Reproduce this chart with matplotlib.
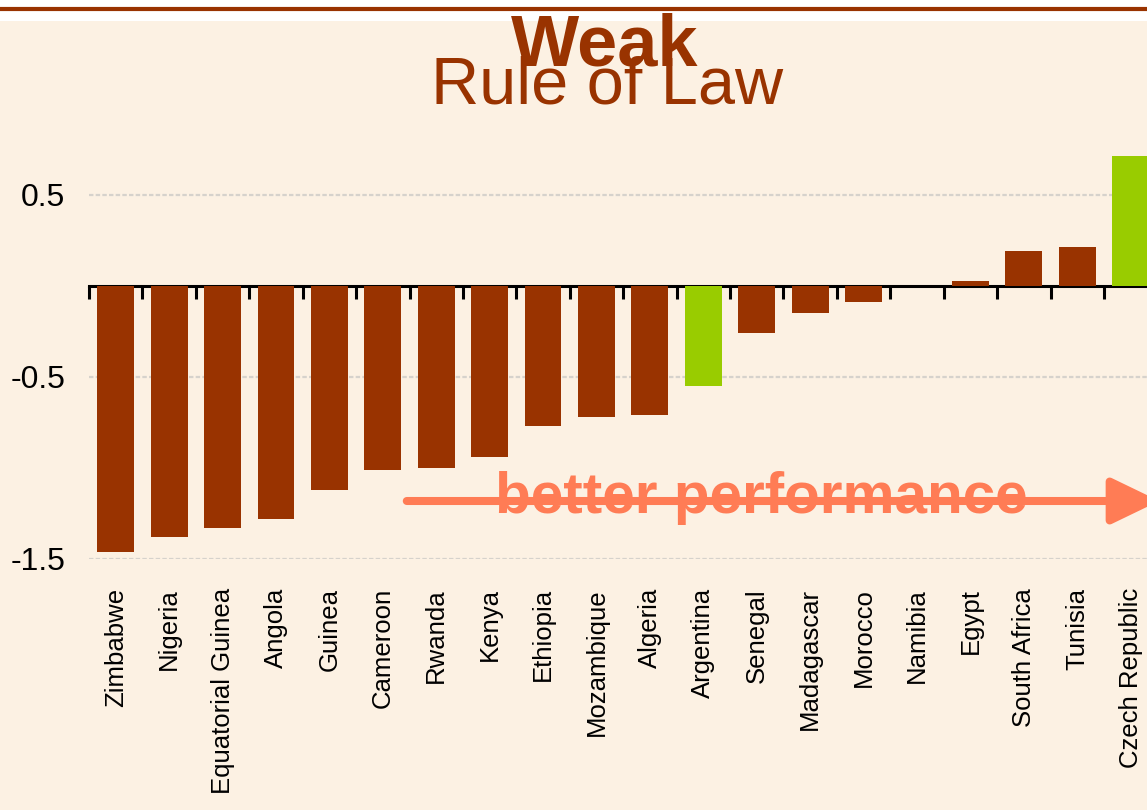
import matplotlib
matplotlib.use("Agg")
import matplotlib.pyplot as plt
from matplotlib import font_manager
from matplotlib.patches import Rectangle, FancyArrowPatch
from matplotlib.lines import Line2D

countries = ["Zimbabwe", "Nigeria", "Equatorial Guinea", "Angola", "Guinea",
             "Cameroon", "Rwanda", "Kenya", "Ethiopia", "Mozambique", "Algeria",
             "Argentina", "Senegal", "Madagascar", "Morocco", "Namibia", "Egypt",
             "South Africa", "Tunisia", "Czech Republic"]
values = [-1.46, -1.38, -1.33, -1.28, -1.12, -1.01, -1.00, -0.94, -0.77, -0.72,
          -0.71, -0.55, -0.26, -0.15, -0.09, 0.0, 0.025, 0.19, 0.21, 0.71]
highlight = ["Argentina", "Czech Republic"]
ytick_vals = [0.5, -0.5, -1.5]
ytick_labels = ["0.5", "-0.5", "-1.5"]

BROWN = "#993300"
GREEN = "#99CC00"
CREAM = "#FCF1E3"
CORAL = "#FF7C55"

def pick_font(names):
    for n in names:
        try:
            font_manager.findfont(font_manager.FontProperties(family=n), fallback_to_default=False)
            return n
        except Exception:
            continue
    return "DejaVu Sans"

regular = pick_font(["Liberation Sans", "Arial"])

W, H = 1147, 810
fig = plt.figure(figsize=(W / 100, H / 100), dpi=100, facecolor="white")

# cream panel and top rule
fig.patches.append(Rectangle((0, 0), 1, 1 - 21 / H, transform=fig.transFigure,
                             facecolor=CREAM, edgecolor="none", zorder=-10))
fig.lines.append(Line2D([0, 1], [1 - 9 / H] * 2, transform=fig.transFigure,
                        color=BROWN, lw=3, zorder=5))

ymin, ymax = -1.5, 1.0
left = 89 / W
right = 1157.4 / W
bottom = 1 - 559 / H
top = 1 - (286 - 182.5) / H
ax = fig.add_axes([left, bottom, right - left, top - bottom])
ax.set_facecolor("none")

x = list(range(len(countries)))
colors = [GREEN if c in highlight else BROWN for c in countries]
ax.bar(x, values, width=0.69, color=colors, zorder=2)

ax.set_xlim(-0.5, len(countries) - 0.5)
ax.set_ylim(ymin, ymax)
ax.set_yticks(ytick_vals)
ax.set_yticklabels(ytick_labels, fontfamily=regular, fontsize=23)
ax.tick_params(axis="y", length=0, pad=17)
ax.yaxis.grid(True, color="#D6D2CC", lw=1.6, linestyle=(0, (2, 1)), zorder=0)
ax.set_axisbelow(True)

ax.set_xticks(x)
ax.set_xticklabels(countries, rotation=90, fontfamily=regular, fontsize=18.5,
                   va="top", ha="center")
ax.tick_params(axis="x", length=0, pad=21)
for s in ax.spines.values():
    s.set_visible(False)

# zero axis with boundary ticks (pointing downward)
zero_loc = (0 - ymin) / (ymax - ymin)
sec = ax.secondary_xaxis(zero_loc)
sec.set_xticks([i - 0.5 for i in range(len(countries) + 1)])
sec.xaxis.set_ticklabels([])
sec.tick_params(axis="x", direction="in", length=9, width=2.2, color="black")
for s in sec.spines.values():
    s.set_linewidth(2.2)
    s.set_color("black")

# titles
fig.text(605 / W, 1 - 66 / H, "Weak", ha="center", va="baseline",
         fontsize=52, fontweight="bold", color=BROWN, fontfamily=regular)
fig.text(607 / W, 1 - 103 / H, "Rule of Law", ha="center", va="baseline",
         fontsize=48, color=BROWN, fontfamily=regular)

# better performance arrow
arrow = FancyArrowPatch((404 / W, 1 - 501 / H), (1162 / W, 1 - 501 / H),
                        transform=fig.transFigure,
                        arrowstyle="-|>,head_length=29,head_width=14",
                        mutation_scale=1, color=CORAL, lw=5.8, zorder=6)
fig.patches.append(arrow)
fig.text(761 / W, 1 - 513 / H, "better performance", ha="center", va="baseline",
         fontsize=42, fontweight="bold", color=CORAL, fontfamily=regular, zorder=7)

fig.savefig("out.png", dpi=100, facecolor="white")
